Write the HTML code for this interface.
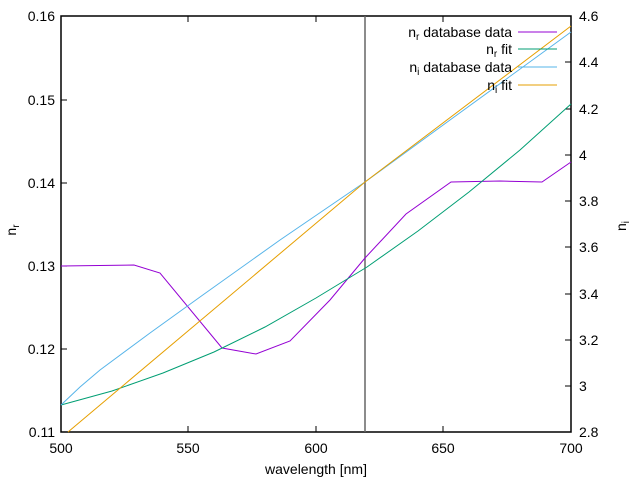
<!DOCTYPE html><html><head><style>body{margin:0;background:#fff}svg{display:block}text{font-family:"Liberation Sans",sans-serif;font-size:14px;fill:#000}</style></head><body>
<svg width="640" height="480" viewBox="0 0 640 480">
<g stroke="#000" stroke-width="1" fill="none">
<rect x="61" y="16" width="510" height="416" stroke-width="1.5"/>
<path d="M61 349h6M61 266h6M61 183h6M61 100h6M61 16h6M571 386h-6M571 340h-6M571 294h-6M571 247h-6M571 201h-6M571 155h-6M571 109h-6M571 62h-6M188 432v-6M316 432v-6M443 432v-6M188 16v6M316 16v6M443 16v6"/>
</g>
<line x1="365" y1="16" x2="365" y2="432" stroke="#666" stroke-width="1.5"/>
<g fill="none" stroke-width="1">
<polyline stroke="#9400d3" points="61,266 134,265 160,273 222,348 256,354 290,341 330,300 365,258 406,214 451,182 500,181 542,182 571,162"/>
<polyline stroke="#009e73" points="61,405 112,391 163,373 214,352 265,327 316,298 367,267 418,231 469,192 520,150 571,104"/>
<polyline stroke="#56b4e9" points="61,405 80,387 100,370 150,333 200,297 280,240 365,182 450,120 571,32"/>
<polyline stroke="#e69f00" points="68,432 365,182 571,26"/>
<line x1="518" y1="32" x2="557" y2="32" stroke="#9400d3"/>
<line x1="518" y1="49" x2="557" y2="49" stroke="#009e73"/>
<line x1="518" y1="67" x2="557" y2="67" stroke="#56b4e9"/>
<line x1="518" y1="85" x2="557" y2="85" stroke="#e69f00"/>
</g>
<g text-anchor="end">
<text x="512" y="37">n<tspan font-size="10" dy="3">r</tspan><tspan dy="-3"> database data</tspan></text>
<text x="512" y="54">n<tspan font-size="10" dy="3">r</tspan><tspan dy="-3"> fit</tspan></text>
<text x="512" y="72">n<tspan font-size="10" dy="3">i</tspan><tspan dy="-3"> database data</tspan></text>
<text x="512" y="90">n<tspan font-size="10" dy="3">i</tspan><tspan dy="-3"> fit</tspan></text>
<text x="55" y="437">0.11</text><text x="55" y="354">0.12</text><text x="55" y="271">0.13</text><text x="55" y="188">0.14</text><text x="55" y="105">0.15</text><text x="55" y="21">0.16</text>
</g>
<g text-anchor="start">
<text x="579" y="437">2.8</text><text x="579" y="391">3</text><text x="579" y="345">3.2</text><text x="579" y="299">3.4</text><text x="579" y="252">3.6</text><text x="579" y="206">3.8</text><text x="579" y="160">4</text><text x="579" y="114">4.2</text><text x="579" y="67">4.4</text><text x="579" y="21">4.6</text>
</g>
<g text-anchor="middle">
<text x="61" y="453">500</text><text x="188" y="453">550</text><text x="316" y="453">600</text><text x="443" y="453">650</text><text x="571" y="453">700</text>
<text x="316" y="474">wavelength [nm]</text>
</g>
<text transform="translate(16,230) rotate(-90)" text-anchor="middle">n<tspan font-size="10" dy="3">r</tspan></text>
<text transform="translate(626,226) rotate(-90)" text-anchor="middle">n<tspan font-size="10" dy="3">i</tspan></text>
</svg></body></html>
